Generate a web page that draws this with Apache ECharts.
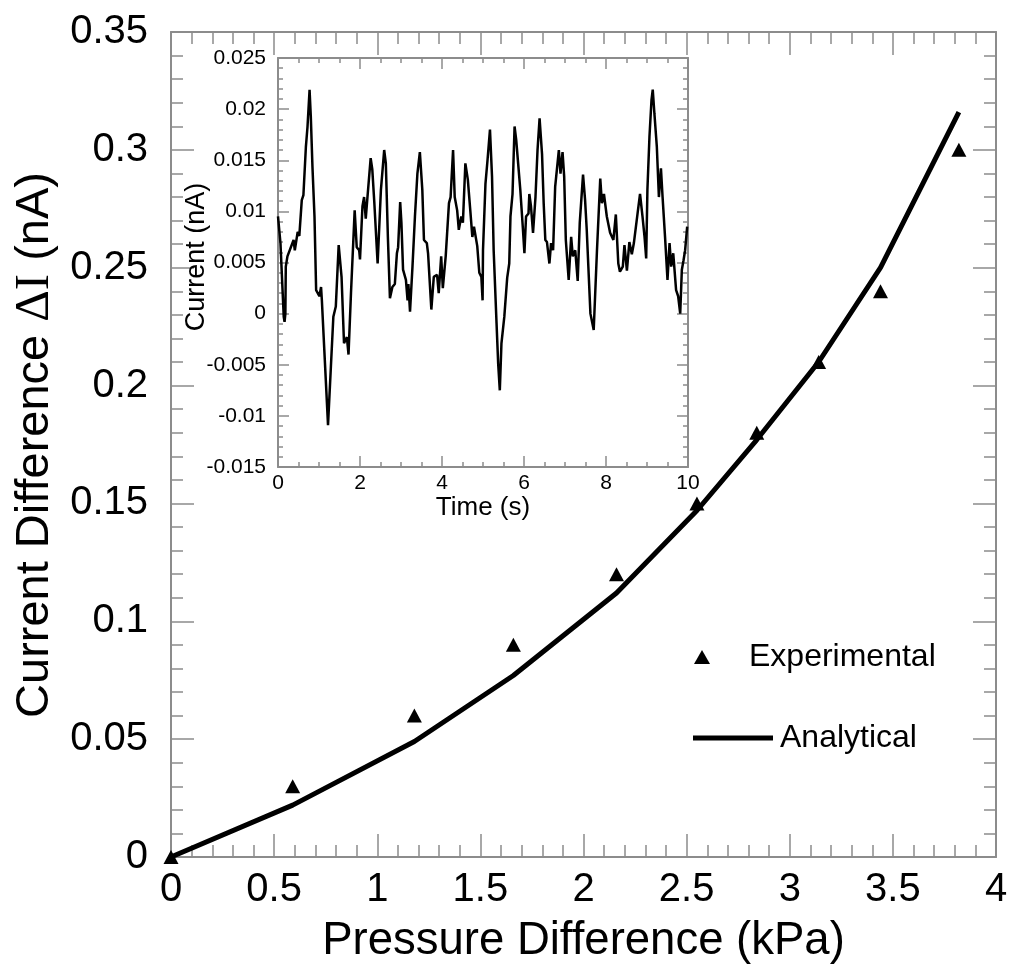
<!DOCTYPE html>
<html>
<head>
<meta charset="utf-8">
<script src="https://cdn.jsdelivr.net/npm/echarts@6/dist/echarts.min.js"></script>
<style>
  html, body { margin: 0; padding: 0; background: #fff; }
  #chart { width: 1012px; height: 977px; }
</style>
</head>
<body>
<div id="chart"></div>
<script>
// main plot: pressure difference (kPa) vs current difference (nA)
const pressure = [0, 0.59, 1.18, 1.66, 2.16, 2.55, 2.84, 3.14, 3.44, 3.82];
const experimental = [0, 0.03, 0.06, 0.09, 0.12, 0.15, 0.18, 0.21, 0.24, 0.30];
const analytical = [0, 0.022, 0.049, 0.077, 0.112, 0.147, 0.177, 0.210, 0.250, 0.316];

// inset: current trace over time
const time = [
  0.00, 0.06, 0.14, 0.16, 0.18, 0.19, 0.23, 0.38, 0.41, 0.48, 0.52, 0.58, 0.62, 0.68, 0.72, 0.77,
  0.80, 0.84, 0.89, 0.93, 1.01, 1.05, 1.07, 1.13, 1.22, 1.29, 1.35, 1.41, 1.48, 1.55, 1.61, 1.68,
  1.72, 1.78, 1.87, 1.92, 1.98, 2.00, 2.06, 2.10, 2.14, 2.18, 2.22, 2.26, 2.30, 2.35, 2.43, 2.51,
  2.59, 2.63, 2.68, 2.73, 2.79, 2.85, 2.90, 2.93, 2.98, 3.01, 3.05, 3.12, 3.16, 3.18, 3.22, 3.28,
  3.34, 3.40, 3.46, 3.52, 3.56, 3.63, 3.66, 3.74, 3.80, 3.88, 3.92, 3.98, 4.02, 4.09, 4.17, 4.21,
  4.27, 4.31, 4.37, 4.41, 4.47, 4.51, 4.57, 4.63, 4.69, 4.74, 4.78, 4.86, 4.91, 4.96, 4.99, 5.00,
  5.06, 5.11, 5.17, 5.22, 5.26, 5.33, 5.37, 5.41, 5.45, 5.52, 5.59, 5.64, 5.67, 5.72, 5.77, 5.81,
  5.85, 5.91, 5.97, 6.01, 6.05, 6.11, 6.13, 6.17, 6.22, 6.28, 6.33, 6.38, 6.44, 6.48, 6.52, 6.56,
  6.62, 6.66, 6.71, 6.76, 6.85, 6.89, 6.94, 6.98, 7.02, 7.09, 7.15, 7.19, 7.25, 7.31, 7.36, 7.44,
  7.49, 7.53, 7.62, 7.70, 7.78, 7.86, 7.90, 7.95, 8.02, 8.10, 8.18, 8.24, 8.30, 8.34, 8.41, 8.45,
  8.51, 8.57, 8.63, 8.68, 8.77, 8.83, 8.89, 8.94, 8.98, 9.01, 9.06, 9.11, 9.14, 9.18, 9.24, 9.29,
  9.34, 9.38, 9.44, 9.50, 9.55, 9.59, 9.64, 9.71, 9.76, 9.81, 9.85, 9.89, 9.93, 9.98
];
const current = [
  0.0095, 0.0069, -0.0003, -0.0008, 0.0000, 0.0046, 0.0056, 0.0072, 0.0062, 0.0080, 0.0076, 0.0111, 0.0116, 0.0163, 0.0183, 0.0219,
  0.0193, 0.0144, 0.0095, 0.0023, 0.0017, 0.0026, 0.0013, -0.0036, -0.0109, -0.0052, -0.0003, 0.0007, 0.0067, 0.0036, -0.0029, -0.0023,
  -0.0040, 0.0020, 0.0101, 0.0065, 0.0062, 0.0053, 0.0105, 0.0114, 0.0093, 0.0113, 0.0114, 0.0152, 0.0141, 0.0108, 0.0049, 0.0121,
  0.0160, 0.0147, 0.0075, 0.0015, 0.0026, 0.0029, 0.0059, 0.0065, 0.0109, 0.0089, 0.0043, 0.0033, 0.0013, 0.0029, 0.0002, 0.0046,
  0.0095, 0.0137, 0.0158, 0.0121, 0.0072, 0.0069, 0.0059, 0.0004, 0.0036, 0.0038, 0.0020, 0.0056, 0.0025, 0.0056, 0.0108, 0.0114,
  0.0160, 0.0114, 0.0101, 0.0082, 0.0095, 0.0089, 0.0147, 0.0131, 0.0101, 0.0075, 0.0085, 0.0066, 0.0040, 0.0036, 0.0013, 0.0062,
  0.0127, 0.0150, 0.0180, 0.0134, 0.0062, -0.0009, -0.0049, -0.0075, -0.0029, -0.0003, 0.0035, 0.0049, 0.0095, 0.0117, 0.0183, 0.0170,
  0.0171, 0.0121, 0.0085, 0.0059, 0.0095, 0.0098, 0.0117, 0.0105, 0.0079, 0.0114, 0.0160, 0.0191, 0.0156, 0.0108, 0.0072, 0.0070,
  0.0049, 0.0069, 0.0062, 0.0124, 0.0160, 0.0137, 0.0158, 0.0134, 0.0072, 0.0033, 0.0075, 0.0056, 0.0062, 0.0032, 0.0089, 0.0136,
  0.0111, 0.0082, 0.0000, -0.0016, 0.0062, 0.0132, 0.0108, 0.0117, 0.0095, 0.0079, 0.0072, 0.0097, 0.0049, 0.0041, 0.0046, 0.0067,
  0.0042, 0.0070, 0.0058, 0.0069, 0.0098, 0.0117, 0.0095, 0.0075, 0.0054, 0.0121, 0.0173, 0.0209, 0.0219, 0.0196, 0.0163, 0.0114,
  0.0142, 0.0114, 0.0075, 0.0033, 0.0069, 0.0046, 0.0059, 0.0023, 0.0017, 0.0000, 0.0043, 0.0052, 0.0062, 0.0085
];

const font = "'Liberation Sans', Arial, sans-serif";
const frame = '#8c8c8c';

const chart = echarts.init(document.getElementById('chart'));

function axisBase(o) {
  // shared look for frame axes: grey line, ticks pointing inward
  return Object.assign({
    type: 'value',
    splitLine: { show: false },
    axisLine: { show: true, onZero: false, lineStyle: { color: frame, width: 2 } },
    axisTick: { show: true, inside: true, length: o.tick, lineStyle: { color: frame, width: 1.5 } },
    minorTick: { show: true, splitNumber: o.minor, length: o.minorLen, lineStyle: { color: frame, width: 1.5 } },
    axisLabel: { show: false }
  }, o.extra);
}

const option = {
  backgroundColor: '#fff',
  animation: false,
  grid: [
    { left: 171, right: 16, top: 32, bottom: 120 },
    { left: 278, right: 324, top: 58, bottom: 510, show: true, backgroundColor: '#fff', borderWidth: 0 }
  ],
  xAxis: [
    axisBase({ tick: 23, minor: 5, minorLen: 12, extra: {
      gridIndex: 0, min: 0, max: 4, interval: 0.5, position: 'bottom',
      axisLabel: { show: true, color: '#000', fontSize: 40, fontFamily: font, margin: 13 },
      name: 'Pressure Difference (kPa)', nameLocation: 'middle', nameGap: 61,
      nameTextStyle: { color: '#000', fontSize: 45.5, fontFamily: font }
    }}),
    axisBase({ tick: 23, minor: 5, minorLen: 12, extra: {
      gridIndex: 0, min: 0, max: 4, interval: 0.5, position: 'top'
    }}),
    axisBase({ tick: 11, minor: 4, minorLen: 5, extra: {
      gridIndex: 1, min: 0, max: 10, interval: 2, position: 'bottom',
      axisLabel: { show: true, color: '#000', fontSize: 21, fontFamily: font, margin: 6 },
      name: 'Time (s)', nameLocation: 'middle', nameGap: 23,
      nameTextStyle: { color: '#000', fontSize: 26, fontFamily: font }
    }}),
    axisBase({ tick: 11, minor: 4, minorLen: 5, extra: {
      gridIndex: 1, min: 0, max: 10, interval: 2, position: 'top'
    }})
  ],
  yAxis: [
    axisBase({ tick: 23, minor: 5, minorLen: 12, extra: {
      gridIndex: 0, min: 0, max: 0.35, interval: 0.05, position: 'left',
      axisLabel: { show: true, color: '#000', fontSize: 40, fontFamily: font, margin: 23 }
    }}),
    axisBase({ tick: 23, minor: 5, minorLen: 12, extra: {
      gridIndex: 0, min: 0, max: 0.35, interval: 0.05, position: 'right'
    }}),
    axisBase({ tick: 11, minor: 5, minorLen: 5, extra: {
      gridIndex: 1, min: -0.015, max: 0.025, interval: 0.005, position: 'left',
      axisLabel: { show: true, color: '#000', fontSize: 21, fontFamily: font, margin: 12 }
    }}),
    axisBase({ tick: 11, minor: 5, minorLen: 5, extra: {
      gridIndex: 1, min: -0.015, max: 0.025, interval: 0.005, position: 'right'
    }})
  ],
  legend: [
    {
      data: ['Experimental'], left: 694, top: 641, padding: 0,
      icon: 'triangle', itemWidth: 16, itemHeight: 14,
      itemStyle: { opacity: 1 },
      textStyle: { color: '#000', fontSize: 32, fontFamily: font, padding: [0, 0, 0, 34] }
    },
    {
      data: ['Analytical'], left: 693, top: 722, padding: 0,
      icon: 'rect', itemWidth: 80, itemHeight: 5,
      textStyle: { color: '#000', fontSize: 32, fontFamily: font, padding: [0, 0, 0, 2] }
    }
  ],
  graphic: [
    {
      type: 'text', x: 35, y: 445, rotation: Math.PI / 2,
      style: {
        text: '{a|Current Difference }{b|\u0394I}{a| (nA)}',
        align: 'center', verticalAlign: 'middle', fill: '#000',
        rich: {
          a: { fontSize: 47, fontFamily: font, fill: '#000' },
          b: { fontSize: 49, fontFamily: "'Liberation Serif', 'DejaVu Serif', serif", fill: '#000' }
        }
      }
    },
    {
      type: 'text', x: 197, y: 257, rotation: Math.PI / 2, z: 10,
      style: { text: 'Current (nA)', align: 'center', verticalAlign: 'middle', fill: '#000', fontSize: 27, fontFamily: font }
    }
  ],
  series: [
    {
      name: 'Analytical', type: 'line', xAxisIndex: 0, yAxisIndex: 0,
      data: pressure.map((p, i) => [p, analytical[i]]),
      showSymbol: false, color: '#000',
      lineStyle: { color: '#000', width: 5 }
    },
    {
      name: 'Experimental', type: 'scatter', xAxisIndex: 0, yAxisIndex: 0,
      data: pressure.map((p, i) => [p, experimental[i]]),
      symbol: 'triangle', symbolSize: [15, 14],
      itemStyle: { color: '#000', opacity: 1 }
    },
    {
      name: 'Trace', type: 'line', xAxisIndex: 2, yAxisIndex: 2,
      data: time.map((t, i) => [t, current[i]]),
      showSymbol: false,
      lineStyle: { color: '#000', width: 2.5 }
    }
  ]
};

chart.setOption(option);
</script>
</body>
</html>
